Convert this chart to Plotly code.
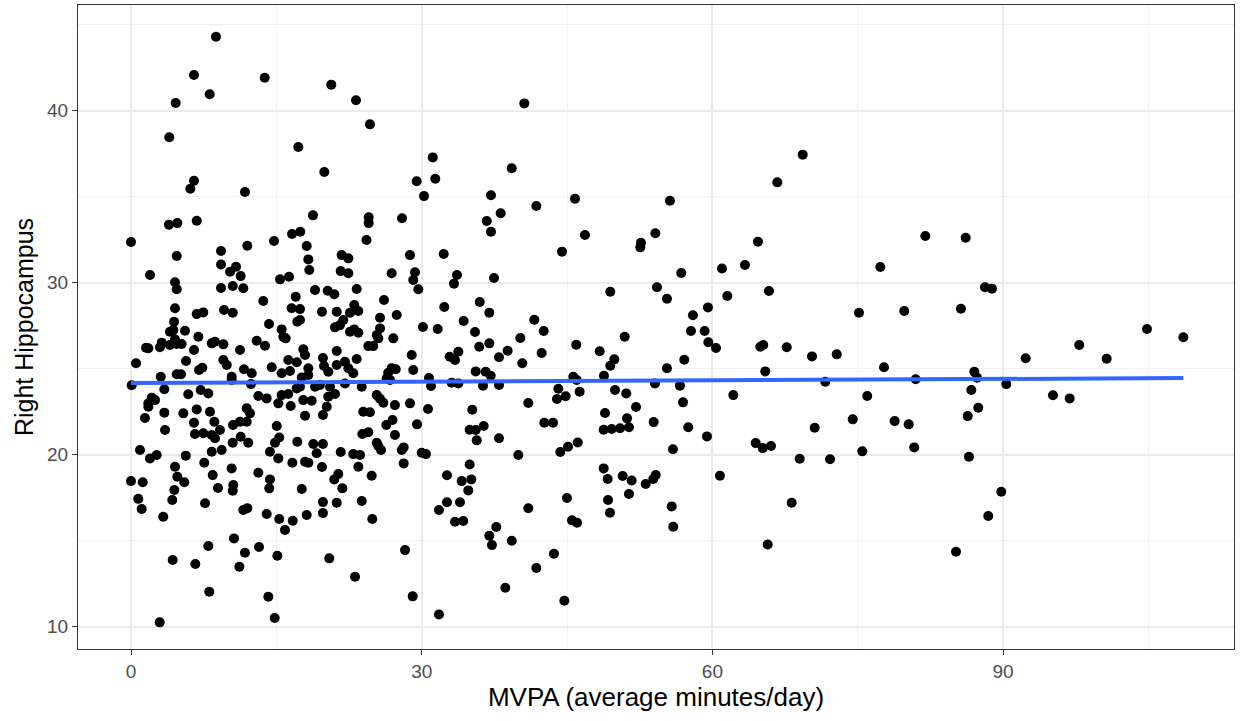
import plotly.graph_objects as go

# MVPA (average minutes/day) and Right Hippocampus values, grouped by region of the chart
mvpa_top = [8.77, 6.5, 13.8, 8.12, 4.61, 3.95, 6.5, 6.12, 11.76, 3.92, 4.78, 6.78, 0.0,
            20.67, 23.22, 24.66, 17.27, 19.95, 29.48, 30.24, 18.78, 16.62, 17.47, 24.53, 24.53, 27.97, 14.76, 24.3]
hip_top = [44.3, 42.08, 41.92, 40.96, 40.45, 38.46, 35.93, 35.47, 35.28, 33.38, 33.47, 33.61, 32.37,
           41.52, 40.61, 39.21, 37.89, 36.44, 35.9, 35.04, 33.92, 32.84, 32.97, 33.81, 33.47, 33.75, 32.43, 32.49]

mvpa_mid_top = [40.59, 31.14, 31.4, 39.29, 37.15, 38.15, 36.71, 37.15, 41.83, 45.82,
                46.85, 44.48, 32.27, 33.64, 33.33, 37.46, 32.33, 35.99, 36.98, 34.33,
                31.65, 41.62, 42.59, 35.5, 55.62, 52.63, 52.56, 54.11, 56.79, 49.46,
                54.28, 55.31, 57.99, 59.54, 57.79, 59.2, 60.99]
hip_mid_top = [40.43, 37.29, 36.05, 36.66, 35.09, 34.04, 33.59, 32.97, 34.46, 34.89,
               32.78, 31.81, 31.67, 30.45, 29.95, 30.28, 28.59, 28.88, 28.26, 27.78,
               27.31, 27.85, 27.2, 27.14, 34.77, 32.33, 32.06, 32.88, 30.57, 29.48,
               29.74, 29.07, 28.11, 28.57, 27.2, 27.2, 30.83]

mvpa_right = [69.32, 66.7, 64.7, 63.36, 61.54, 65.84, 81.97, 86.14, 77.33, 88.13, 88.85, 75.13, 79.8, 85.65, 104.85,
              60.37, 64.94, 65.25, 67.67, 70.28, 72.83, 65.46, 71.65, 62.16, 77.71,
              75.98, 80.98, 87.03, 87.31, 86.72, 90.33, 92.33, 97.86, 100.69, 108.6,
              95.15, 96.87, 87.44, 86.35, 74.48, 78.81, 80.26, 70.56, 64.47, 65.19,
              66.05, 75.47, 80.83, 69.01, 72.14, 86.48, 60.78, 89.81, 68.18, 88.47,
              65.71, 85.14]
hip_right = [37.45, 35.84, 32.39, 31.03, 29.23, 29.52, 32.72, 32.62, 30.92, 29.74, 29.66, 28.26, 28.36, 28.49, 27.31,
             26.21, 26.28, 26.38, 26.25, 25.72, 25.84, 24.85, 24.25, 23.47, 25.09,
             23.42, 24.39, 24.83, 24.48, 23.77, 24.11, 25.61, 26.38, 25.59, 26.83,
             23.46, 23.28, 22.74, 22.25, 22.06, 21.96, 21.77, 21.57, 20.68, 20.39,
             20.51, 20.2, 20.43, 19.77, 19.74, 19.89, 18.78, 17.85, 17.21, 16.44,
             14.79, 14.36]

mvpa_mid_low = [40.18, 50.95, 59.58, 45.95, 48.37, 49.88, 49.46,
                35.94, 36.98, 38.87, 37.98, 42.38, 32.89, 33.44, 33.78, 40.38, 57.1, 55.31,
                35.57, 36.6, 37.12, 30.96, 33.09, 33.78, 36.33, 37.98,
                45.64, 46.0, 48.81, 54.07, 56.65,
                44.1, 43.96, 44.86, 46.3, 49.95, 51.11, 52.12, 56.97, 41.0,
                30.65, 35.22, 48.92, 51.19, 53.94, 42.65, 43.55,
                34.95, 35.57, 36.4, 35.68, 37.98,
                48.78, 49.61, 50.47, 51.39, 57.51, 59.44,
                46.1, 45.1, 44.3, 55.93, 30.44, 39.97,
                34.95, 32.61, 34.13, 35.12, 34.81,
                48.78, 49.19, 50.74, 51.67, 53.12, 53.9, 54.15, 51.39,
                44.99, 32.61, 31.78, 33.95, 33.44, 34.29, 41.0,
                49.23, 49.43, 55.8, 55.96, 45.51, 46.03,
                37.7, 36.98, 37.25, 39.29, 43.65, 41.83, 38.63, 44.72, 31.78,
                30.75]
hip_mid_low = [26.79, 26.86, 26.54, 26.4, 26.02, 25.55, 25.18,
               26.28, 26.48, 26.05, 25.67, 25.92, 25.7, 25.51, 25.99, 25.32, 25.53, 25.03,
               24.85, 24.83, 24.6, 24.0, 24.19, 24.15, 24.02, 24.06,
               24.54, 24.35, 24.6, 24.15, 24.02,
               23.84, 23.24, 23.4, 23.67, 23.77, 23.57, 22.78, 23.05, 23.01,
               22.66, 22.62, 22.43, 22.12, 21.9, 21.86, 21.86,
               21.46, 21.44, 21.67, 20.84, 20.96,
               21.46, 21.5, 21.54, 21.6, 21.6, 21.07,
               20.72, 20.47, 20.16, 20.32, 20.04, 19.99,
               19.44, 18.81, 18.47, 18.57, 17.93,
               19.21, 18.59, 18.77, 18.51, 18.3, 18.59, 18.82, 17.72,
               17.49, 17.24, 16.79, 17.24, 16.11, 16.15, 16.89,
               17.37, 16.63, 17.0, 15.82, 16.19, 16.05,
               15.8, 15.29, 14.75, 15.0, 14.25, 13.42, 12.27, 11.52, 10.72,
               24.46]

mvpa_low_a = [26.99, 29.52, 23.87, 24.49, 26.35, 27.24, 25.36, 25.8, 25.52, 28.14, 27.94, 30.0,
              21.64, 22.94, 23.63, 19.81, 28.14, 23.46, 24.84, 21.39, 20.98, 21.81, 19.71,
              21.23, 23.81, 19.81, 19.81, 24.9, 28.28, 20.46, 23.12, 29.07,
              15.04, 15.3, 14.86, 17.16, 18.81, 19.16, 14.34, 15.2, 16.65, 17.96, 18.3,
              10.39, 13.14, 14.34, 14.27, 10.56, 10.5, 17.62, 8.98,
              11.59, 12.0, 14.0, 15.3, 16.69, 15.89, 18.13,
              10.63, 11.76, 13.21, 15.1, 11.18, 14.17, 14.83,
              9.18, 10.53, 11.25, 11.94, 10.5, 12.1, 11.32, 9.36]
hip_low_a = [22.02, 21.77, 21.21, 21.31, 21.73, 21.15, 20.7, 20.28, 20.51, 20.43, 20.28, 20.12,
             20.16, 20.04, 19.99, 20.63, 19.5, 19.31, 18.78, 18.88, 18.57, 18.05, 19.29,
             17.21, 17.31, 17.25, 16.61, 16.27, 14.46, 13.98, 12.91, 11.77,
             21.67, 21.01, 20.7, 20.76, 20.63, 20.09, 20.18, 19.79, 19.54, 19.6, 19.54,
             19.21, 18.96, 18.57, 18.05, 18.24, 17.91, 18.01, 18.07,
             16.79, 16.9, 16.56, 16.27, 16.17, 15.63, 16.5,
             15.14, 14.31, 14.64, 14.13, 13.49, 11.75, 10.51,
             21.44, 21.73, 21.92, 21.92, 20.7, 20.7, 21.05, 20.28]

mvpa_low_b = [1.44, 3.51, 6.5, 6.6, 7.46, 8.33, 8.67, 8.6,
              0.93, 1.96, 2.65, 5.65, 4.54, 4.78, 5.5, 4.47, 4.26,
              7.56, 8.33, 8.43, 0.0, 1.21, 0.75, 1.1, 3.33, 7.64, 7.98, 4.3, 6.64, 8.08, 2.96]
hip_low_b = [22.14, 21.44, 21.86, 21.21, 21.25, 21.15, 20.96, 21.92,
             20.28, 19.79, 19.99, 19.95, 19.31, 18.72, 18.4, 17.95, 17.37,
             19.54, 20.18, 18.82, 18.47, 18.4, 17.44, 16.85, 16.4, 17.18, 14.7, 13.88, 13.65, 12.04, 10.26]

mvpa_dense_a = [4.72, 1.96, 4.54, 4.72, 9.29, 9.29, 9.29, 4.54, 6.78, 7.46,
                4.44, 4.37, 4.02, 5.57, 6.95, 8.67, 8.33, 1.55, 1.79, 3.17,
                2.99, 4.02, 4.72, 5.23, 4.54, 6.5, 0.52, 5.68, 7.36, 7.02,
                4.72, 5.16, 3.07, 0.07, 3.44, 7.19, 7.98, 5.91, 2.14, 2.48,
                1.79, 1.79, 3.44, 5.4, 6.78, 8.15]
hip_dense_a = [31.56, 30.45, 30.03, 29.62, 31.85, 31.06, 29.7, 28.52, 28.18, 28.28,
               27.74, 27.25, 27.15, 27.21, 26.86, 26.57, 26.48, 26.22, 26.19, 26.52,
               26.25, 26.38, 26.44, 26.44, 26.71, 26.09, 25.32, 25.45, 25.06, 24.93,
               24.68, 24.68, 24.54, 24.04, 23.81, 23.77, 23.57, 23.52, 23.32, 23.18,
               22.99, 22.79, 22.45, 22.41, 22.64, 22.5]

mvpa_dense_b = [12.0, 18.13, 18.3, 18.4, 10.22, 10.84, 11.32, 10.5, 11.59, 15.38,
                16.31, 18.99, 13.65, 17.0, 16.58, 17.44, 19.71, 17.16, 17.44, 9.6,
                10.5, 14.24, 15.55, 15.72, 15.96, 9.53, 12.97, 13.83, 11.25, 17.78,
                17.96, 9.53, 9.88, 16.23, 17.1, 19.81, 19.92, 14.52, 11.66, 12.46,
                15.55, 16.41, 18.3, 18.3, 17.62, 10.39, 10.39, 12.38, 17.44, 17.1,
                18.99, 19.5, 13.14, 14.0, 15.55, 16.23, 15.2, 16.48, 17.78, 18.65,
                11.94, 12.28, 17.96, 19.81]
hip_dense_b = [32.15, 32.14, 31.36, 30.74, 30.64, 30.93, 30.39, 29.81, 29.68, 30.2,
               30.35, 29.58, 28.94, 29.19, 28.52, 28.47, 28.32, 27.74, 27.84, 28.42,
               28.26, 27.6, 27.29, 26.86, 26.77, 26.42, 26.63, 26.34, 26.09, 26.13,
               25.8, 25.51, 25.22, 25.51, 25.38, 25.63, 25.16, 25.09, 24.97, 24.74,
               24.74, 24.87, 25.03, 24.64, 24.5, 24.54, 24.35, 24.11, 23.96, 23.86,
               23.96, 24.06, 23.42, 23.28, 23.47, 23.53, 22.99, 22.84, 23.18, 23.14,
               22.7, 22.41, 22.27, 22.31]

mvpa_dense_c = [21.74, 22.43, 21.64, 22.43, 28.79, 26.9, 29.31, 29.13, 29.65, 23.29,
                20.3, 20.98, 26.11, 23.04, 23.46, 22.6, 21.23, 25.7, 27.42, 21.91,
                21.57, 21.05, 22.6, 23.46, 23.04, 25.7, 25.36, 25.52, 30.13, 27.07,
                24.49, 25.0, 21.23,
                23.29, 28.97, 21.23, 22.08, 22.43, 22.94,
                20.36, 26.9, 27.32, 26.55, 29.13, 26.39, 26.73, 22.08, 23.81, 20.54,
                21.05, 20.36, 25.36, 25.7, 26.04, 27.24, 28.79, 23.97, 24.66, 20.2]
hip_dense_c = [31.61, 31.42, 30.68, 30.55, 31.61, 30.55, 30.61, 30.16, 29.62, 29.64,
               29.54, 29.33, 29.0, 28.71, 28.36, 28.26, 28.32, 27.97, 28.13, 27.84,
               27.54, 27.41, 27.15, 27.1, 27.29, 27.35, 26.96, 26.77, 27.43, 26.77,
               26.32, 26.32, 26.03,
               25.57, 25.8, 25.22, 25.41, 25.03, 24.74,
               24.83, 25.03, 24.97, 24.77, 24.93, 24.45, 24.35, 24.15, 23.96, 23.96,
               23.53, 23.38, 23.47, 23.26, 23.03, 22.89, 22.99, 22.5, 22.47, 22.79]

# linear fit line
fit_mvpa = [0.0, 108.6]
fit_hip = [24.17, 24.46]

x_tick_vals = [0, 30, 60, 90]
y_tick_vals = [10, 20, 30, 40]

groups_x = [mvpa_top, mvpa_mid_top, mvpa_right, mvpa_mid_low, mvpa_low_a, mvpa_low_b,
            mvpa_dense_a, mvpa_dense_b, mvpa_dense_c]
groups_y = [hip_top, hip_mid_top, hip_right, hip_mid_low, hip_low_a, hip_low_b,
            hip_dense_a, hip_dense_b, hip_dense_c]
all_x, all_y = [], []
for gx, gy in zip(groups_x, groups_y):
    assert len(gx) == len(gy), (len(gx), len(gy))
    all_x += gx
    all_y += gy

fig = go.Figure()
fig.add_trace(go.Scatter(x=all_x, y=all_y, mode="markers",
                         marker=dict(color="black", size=10, line=dict(width=0)),
                         showlegend=False, hoverinfo="x+y"))
fig.add_trace(go.Scatter(x=fit_mvpa, y=fit_hip, mode="lines",
                         line=dict(color="#3366FF", width=4), showlegend=False))

axis_common = dict(
    automargin=False,
    showgrid=True, gridcolor="#EBEBEB", gridwidth=2,
    showline=True, linecolor="#333333", linewidth=1, mirror=True,
    ticks="outside", ticklen=5, tickcolor="#333333", tickwidth=1,
    tickfont=dict(family="Liberation Sans, Arial, sans-serif", size=19, color="#4D4D4D"),
    zeroline=False,
    minor=dict(showgrid=True, gridcolor="#F2F2F2", gridwidth=1, ticks=""),
)

fig.update_layout(
    width=1245, height=721,
    paper_bgcolor="white", plot_bgcolor="white",
    margin=dict(l=78, r=11, t=5, b=72),
    font=dict(family="Liberation Sans, Arial, sans-serif", color="black"),
    xaxis=dict(axis_common, range=[-5.47, 113.83], tickvals=x_tick_vals,
               minor=dict(axis_common["minor"], dtick=15, tick0=15),
               title=dict(text="MVPA (average minutes/day)", font=dict(size=26, color="black"), standoff=6)),
    yaxis=dict(axis_common, range=[8.71, 46.15], tickvals=y_tick_vals,
               minor=dict(axis_common["minor"], dtick=5, tick0=15),
               title=dict(text="Right Hippocampus", font=dict(size=25, color="black"), standoff=6)),
)

fig.write_html("out.html",
               config={"displayModeBar": False},
               post_script="document.body.style.margin='0';document.body.style.overflow='hidden';")
